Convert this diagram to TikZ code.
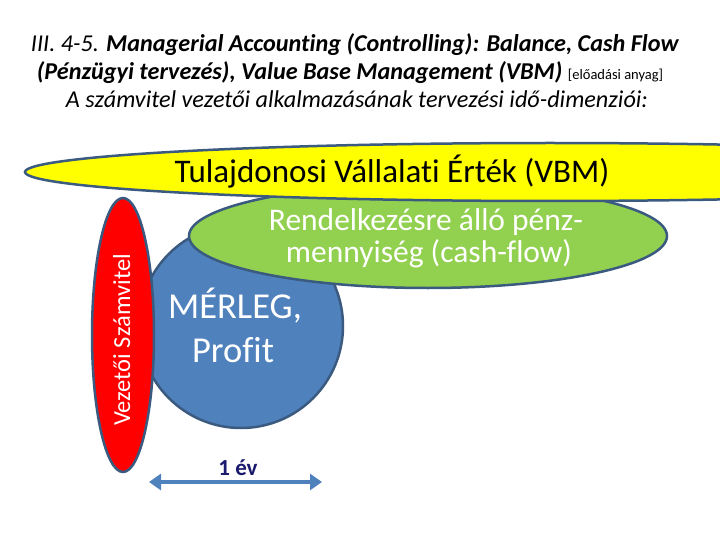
\documentclass[tikz,border=0pt]{standalone}
\usepackage{fontspec}
\setmainfont{Carlito}[Ligatures={NoCommon}]
\usetikzlibrary{shapes.geometric,arrows.meta}
\definecolor{outl}{HTML}{3A5A80}
\definecolor{bluec}{HTML}{4F81BD}
\definecolor{redc}{HTML}{FF0000}
\definecolor{greenc}{HTML}{92D050}
\definecolor{yellowc}{HTML}{FFFF00}
\definecolor{navy}{HTML}{1A1A6E}
\begin{document}
\begin{tikzpicture}[x=1pt,y=-1pt,
  blob/.style={ellipse, draw=outl, line width=2.5pt, inner sep=0pt},
  ttl/.style={anchor=base, font=\fontsize{24.2}{26}\selectfont},
  wtxt/.style={anchor=base, text=white},
  arr/.style={draw=bluec, line width=4pt, {Triangle[length=12pt,width=16pt]}-{Triangle[length=12pt,width=16pt]}}]
\useasboundingbox (0,0) rectangle (720,540);
\clip (0,0) rectangle (720,540);
% shapes
\node[blob, fill=bluec, minimum width=204pt, minimum height=204pt] (blue) at (241,326) {};
\node[blob, fill=redc, minimum width=62pt, minimum height=274pt] (red) at (123,335) {};
\node[blob, fill=greenc, minimum width=478pt, minimum height=104pt] (green) at (428,236) {};
\node[blob, fill=yellowc, minimum width=1050pt, minimum height=58pt] (yel) at (550,172) {};
% title
\node[ttl] (t1) at (355,52) {\textit{III. 4-5.} \textbf{\textit{Managerial Accounting (Controlling): Balance, Cash Flow}}};
\node[ttl] (t2) at (350,80) {\textbf{\textit{(Pénzügyi tervezés), Value Base Management (VBM)}} {\fontsize{14.5}{15}\selectfont [előadási anyag]}};
\node[ttl] (t3) at (357,108) {\textit{A számvitel vezetői alkalmazásának tervezési idő-dimenziói:}};
% labels
\node[anchor=base, font=\fontsize{33}{36}\selectfont] (tv) at (392,183) {Tulajdonosi Vállalati Érték (VBM)};
\node[wtxt, font=\fontsize{31.5}{34}\selectfont] (tg1) at (426,230) {Rendelkezésre álló pénz-};
\node[wtxt, font=\fontsize{31.5}{34}\selectfont] (tg2) at (429,262) {mennyiség (cash-flow)};
\node[wtxt, font=\fontsize{36.5}{40}\selectfont] (tb1) at (235,318) {MÉRLEG,};
\node[wtxt, font=\fontsize{36.5}{40}\selectfont] (tb2) at (233,362) {Profit};
\node[rotate=90, anchor=base, text=white, font=\fontsize{24.5}{26}\selectfont] (tr) at (130,340) {Vezetői Számvitel};
\node[anchor=base, text=navy, font=\bfseries\fontsize{23}{25}\selectfont] (ev) at (238,475) {1 év};
% arrow
\coordinate (a1) at (149,482);
\coordinate (a2) at (322,482);
\draw[arr] (a1) -- (a2);
\end{tikzpicture}
\end{document}
